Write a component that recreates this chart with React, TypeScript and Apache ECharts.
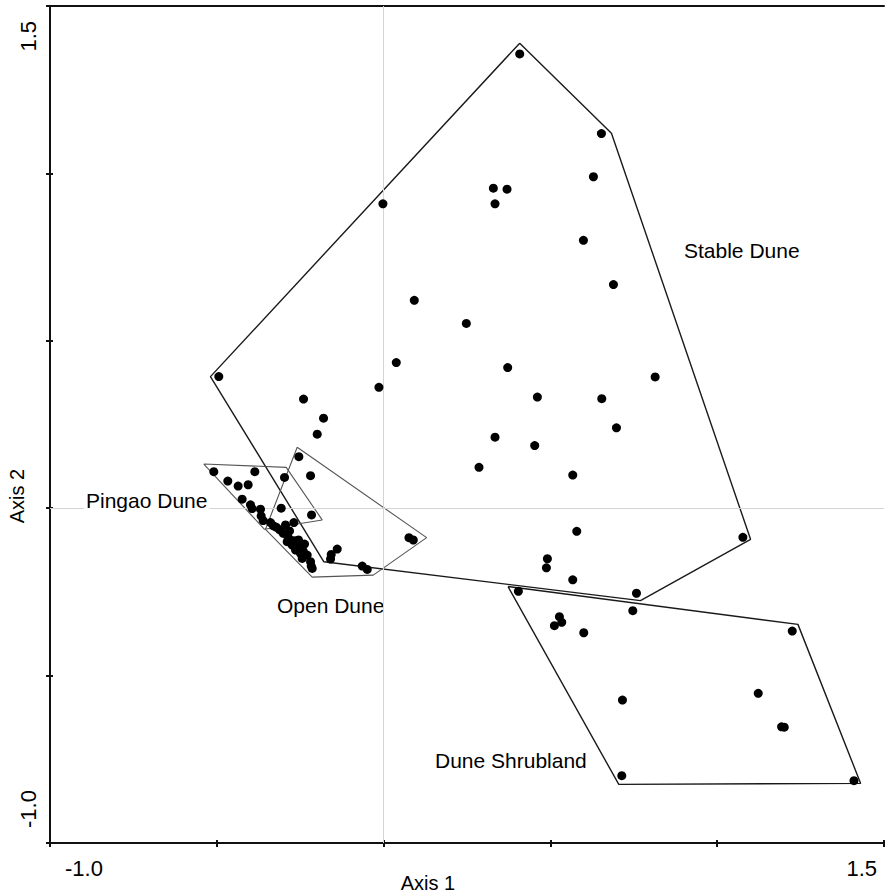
import React, { useEffect, useRef } from "react";
import * as echarts from "echarts";

// Axis ranges and tick labels
const axisMin = -1.0;
const axisMax = 1.5;
const tickStep = 0.5;
const xLabelValues = [-1.0, 1.5];
const xLabelTexts = ["-1.0", "1.5"];
const yLabelValues = [-1.0, 1.5];
const yLabelTexts = ["-1.0", "1.5"];
const xAxisTitle = "Axis 1";
const yAxisTitle = "Axis 2";

// Group names
const groupNames = ["Stable Dune", "Pingao Dune", "Open Dune", "Dune Shrubland"];

// Sample points (Axis 1, Axis 2)
const stablePoints: number[][] = [
  [0.408, 1.357], [0.653, 1.119], [0.629, 0.99], [0.329, 0.956], [0.37, 0.953],
  [0.334, 0.909], [0.599, 0.8], [0.689, 0.668], [0.248, 0.552], [-0.002, 0.909],
  [0.092, 0.621], [0.038, 0.435], [-0.494, 0.393], [-0.014, 0.361], [-0.24, 0.326],
  [-0.18, 0.269], [-0.199, 0.221], [0.372, 0.42], [0.814, 0.392], [0.461, 0.332],
  [0.654, 0.327], [0.698, 0.24], [0.334, 0.212], [0.453, 0.187], [0.286, 0.122],
  [0.567, 0.099], [0.579, -0.069], [1.077, -0.087], [0.491, -0.151], [0.488, -0.178],
  [0.567, -0.214], [0.758, -0.254],
];

const shrublandPoints: number[][] = [
  [0.404, -0.248], [0.527, -0.324], [0.534, -0.341], [0.512, -0.351], [0.6, -0.372],
  [0.747, -0.306], [1.225, -0.367], [0.716, -0.573], [1.123, -0.553], [1.193, -0.653],
  [1.201, -0.654], [0.714, -0.799], [1.41, -0.814],
];

const pingaoPoints: number[][] = [
  [-0.509, 0.109], [-0.386, 0.109], [-0.467, 0.081], [-0.436, 0.066], [-0.406, 0.07],
  [-0.297, 0.092], [-0.424, 0.027], [-0.399, 0.01], [-0.394, -0.001], [-0.369, -0.003],
  [-0.367, -0.023], [-0.361, -0.037], [-0.307, 0.0], [-0.216, -0.02],
];

const openPoints: number[][] = [
  [-0.254, 0.154], [-0.219, 0.097], [0.076, -0.088], [0.089, -0.095], [-0.139, -0.122],
  [-0.157, -0.138], [-0.159, -0.152], [-0.064, -0.173], [-0.049, -0.183], [-0.269, -0.043],
  [-0.339, -0.043], [-0.33, -0.053], [-0.321, -0.057], [-0.311, -0.065], [-0.294, -0.05],
  [-0.301, -0.075], [-0.287, -0.085], [-0.279, -0.095], [-0.266, -0.097], [-0.289, -0.1],
  [-0.274, -0.11], [-0.259, -0.113], [-0.249, -0.12], [-0.264, -0.125], [-0.249, -0.135],
  [-0.229, -0.14], [-0.244, -0.15], [-0.219, -0.16], [-0.217, -0.173], [-0.214, -0.18],
  [-0.237, -0.107], [-0.255, -0.095], [-0.282, -0.068], [-0.241, -0.128],
];

// Convex hull outlines (vertices as drawn)
const stableHull: number[][] = [
  [0.408, 1.389], [0.683, 1.12], [1.1, -0.093], [0.77, -0.276], [-0.179, -0.16], [-0.519, 0.393],
];
const shrublandHull: number[][] = [
  [0.373, -0.234], [1.242, -0.347], [1.43, -0.822], [0.705, -0.825],
];
const pingaoHull: number[][] = [
  [-0.539, 0.132], [-0.292, 0.122], [-0.184, -0.035], [-0.357, -0.063],
];
const openHull: number[][] = [
  [-0.259, 0.182], [0.129, -0.088], [-0.031, -0.2], [-0.214, -0.206], [-0.354, -0.063],
];

const close = (h: number[][]) => [...h, h[0]];

export default function App() {
  const ref = useRef<HTMLDivElement>(null);
  useEffect(() => {
    if (!ref.current) return;
    const chart = echarts.init(ref.current, null, { renderer: "svg" });
    const font = "Liberation Sans, Arial, sans-serif";
    const fmt = (vals: number[], texts: string[]) => (v: number) => {
      const i = vals.findIndex((a) => Math.abs(a - v) < 1e-9);
      return i >= 0 ? texts[i] : "";
    };
    const baseX = { type: "value", min: axisMin, max: axisMax, interval: tickStep, splitLine: { show: false } };
    const pointSeries = (name: string, data: number[][]) => ({
      name, type: "scatter", data, symbol: "circle", symbolSize: 9,
      itemStyle: { color: "#000", opacity: 1 }, z: 5, silent: true,
    });
    const hullSeries = (name: string, data: number[][], color: string, width: number) => ({
      name: name + " hull", type: "line", data: close(data), showSymbol: false, symbol: "none",
      lineStyle: { color, width }, z: 3, silent: true,
    });
    const line = { show: true, onZero: false, lineStyle: { color: "#111", width: 2 } };
    const noLine = { show: false, onZero: false };
    chart.setOption({
      animation: false,
      backgroundColor: "#fff",
      grid: { left: 50, right: 1, top: 6, bottom: 51 },
      xAxis: [
        {
          ...baseX, position: "bottom",
          axisLine: line,
          axisTick: { show: true, inside: false, length: 4, lineStyle: { color: "#111", width: 2 } },
          axisLabel: {
            show: true, formatter: fmt(xLabelValues, xLabelTexts), color: "#000",
            fontFamily: font, fontSize: 22, margin: 14,
            alignMinLabel: "left", alignMaxLabel: "right", padding: [0, 7, 0, 15],
          },
        },
        {
          ...baseX, position: "bottom",
          axisLine: noLine,
          axisTick: { show: true, inside: true, length: 3, lineStyle: { color: "#111", width: 2 } },
          axisLabel: { show: false },
        },
        {
          ...baseX, position: "top",
          axisLine: line,
          axisTick: { show: false },
          axisLabel: { show: false },
        },
      ],
      yAxis: [
        {
          ...baseX, position: "left",
          axisLine: line,
          axisTick: { show: true, inside: false, length: 4, lineStyle: { color: "#111", width: 2 } },
          axisLabel: {
            show: true, formatter: fmt(yLabelValues, yLabelTexts), color: "#000",
            fontFamily: font, fontSize: 22, margin: 11, rotate: 90,
            alignMinLabel: "left", alignMaxLabel: "right", padding: [0, 15, 0, 15],
          },
        },
        {
          ...baseX, position: "left",
          axisLine: noLine,
          axisTick: { show: true, inside: true, length: 3, lineStyle: { color: "#111", width: 2 } },
          axisLabel: { show: false },
        },
      ],
      graphic: [
        { type: "text", x: 428, y: 883, style: { text: xAxisTitle, fontFamily: font, fontSize: 20, fill: "#000", align: "center", verticalAlign: "middle" } },
        { type: "text", x: 17, y: 496, rotation: Math.PI / 2, style: { text: yAxisTitle, fontFamily: font, fontSize: 20, fill: "#000", align: "center", verticalAlign: "middle" } },
        { type: "text", x: 684, y: 250, style: { text: groupNames[0], fontFamily: font, fontSize: 21, fill: "#000", align: "left", verticalAlign: "middle" } },
        { type: "text", x: 84, y: 500, z: 10, style: { text: groupNames[1], fontFamily: font, fontSize: 21, fill: "#000", align: "left", verticalAlign: "middle", backgroundColor: "#fff", padding: [0, 2, 0, 2] } },
        { type: "text", x: 277, y: 605, style: { text: groupNames[2], fontFamily: font, fontSize: 21, fill: "#000", align: "left", verticalAlign: "middle" } },
        { type: "text", x: 435, y: 760, style: { text: groupNames[3], fontFamily: font, fontSize: 21, fill: "#000", align: "left", verticalAlign: "middle" } },
      ],
      series: [
        {
          name: "origin", type: "line", data: [], z: 1, silent: true,
          markLine: {
            silent: true, symbol: ["none", "none"], label: { show: false },
            lineStyle: { color: "#d4d4d4", width: 1, type: "solid" },
            data: [{ xAxis: 0 }, { yAxis: 0 }],
          },
        },
        hullSeries(groupNames[0], stableHull, "#1a1a1a", 1.4),
        hullSeries(groupNames[3], shrublandHull, "#1a1a1a", 1.4),
        hullSeries(groupNames[1], pingaoHull, "#555", 1.1),
        hullSeries(groupNames[2], openHull, "#555", 1.1),
        pointSeries(groupNames[0], stablePoints),
        pointSeries(groupNames[3], shrublandPoints),
        pointSeries(groupNames[1], pingaoPoints),
        pointSeries(groupNames[2], openPoints),
      ],
    });
    return () => chart.dispose();
  }, []);
  return <div ref={ref} style={{ position: "absolute", left: 0, top: 0, width: 885, height: 894 }} />;
}
